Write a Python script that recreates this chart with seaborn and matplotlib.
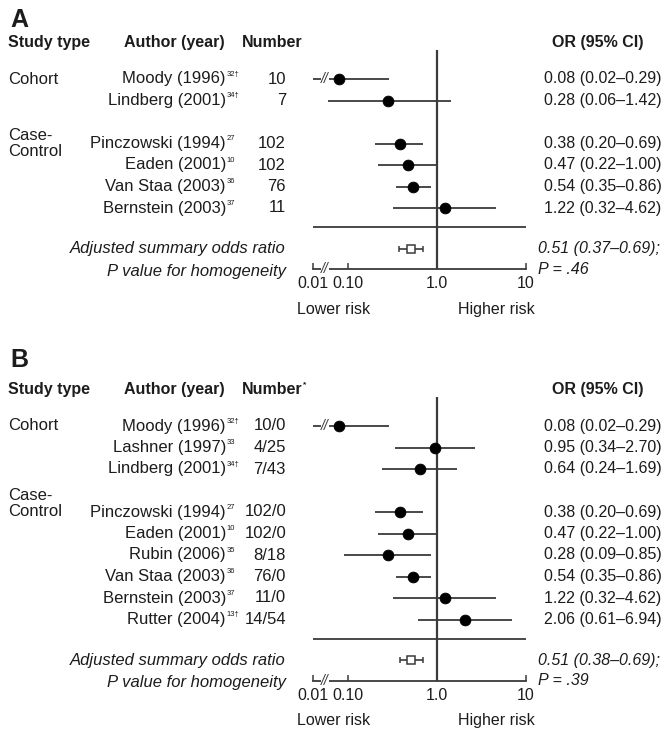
import matplotlib
matplotlib.use("Agg")
import pandas as pd
import matplotlib.pyplot as plt
import matplotlib.transforms as mtransforms
from matplotlib.ticker import NullLocator
import seaborn as sns

sns.set_theme(style="white")
plt.rcParams["font.family"] = ["Liberation Sans", "DejaVu Sans"]

# --- Panel A data ---
a_type = ["Cohort", "Cohort", "Case-\nControl", "Case-\nControl", "Case-\nControl", "Case-\nControl"]
a_author = ["Moody (1996)", "Lindberg (2001)", "Pinczowski (1994)", "Eaden (2001)",
            "Van Staa (2003)", "Bernstein (2003)"]
a_ref = ["32†", "34†", "27", "10", "36", "37"]
a_number = ["10", "7", "102", "102", "76", "11"]
a_or = [0.08, 0.28, 0.38, 0.47, 0.54, 1.22]
a_lo = [0.02, 0.06, 0.20, 0.22, 0.35, 0.32]
a_hi = [0.29, 1.42, 0.69, 1.00, 0.86, 4.62]
a_summary = [0.51, 0.37, 0.69]
a_p = ".46"

# --- Panel B data ---
b_type = ["Cohort", "Cohort", "Cohort", "Case-\nControl", "Case-\nControl", "Case-\nControl",
          "Case-\nControl", "Case-\nControl", "Case-\nControl"]
b_author = ["Moody (1996)", "Lashner (1997)", "Lindberg (2001)", "Pinczowski (1994)",
            "Eaden (2001)", "Rubin (2006)", "Van Staa (2003)", "Bernstein (2003)", "Rutter (2004)"]
b_ref = ["32†", "33", "34†", "27", "10", "35", "36", "37", "13†"]
b_number = ["10/0", "4/25", "7/43", "102/0", "102/0", "8/18", "76/0", "11/0", "14/54"]
b_or = [0.08, 0.95, 0.64, 0.38, 0.47, 0.28, 0.54, 1.22, 2.06]
b_lo = [0.02, 0.34, 0.24, 0.20, 0.22, 0.09, 0.35, 0.32, 0.61]
b_hi = [0.29, 2.70, 1.69, 0.69, 1.00, 0.85, 0.86, 4.62, 6.94]
b_summary = [0.51, 0.38, 0.69]
b_p = ".39"

tick_vals = [0.04, 0.1, 1, 10]          # left end stands for 0.01 behind the axis break
tick_labels = ["0.01", "0.10", "1.0", "10"]
x_break = 0.055

W, H = 667, 732
LINE = "#3a3a3a"
TXT = "#1c1c1c"
STEP = 21.5
SUP = 0.22   # superscript lift, in rows


def fx(px):
    return px / W


def fy(px):
    return 1 - px / H


def make_df(types, authors, refs, numbers, ors, los, his):
    df = pd.DataFrame({"type": types, "author": authors, "ref": refs, "number": numbers,
                       "or": ors, "lo": los, "hi": his})
    group = (df["type"] != df["type"].shift()).cumsum() - 1
    df["row"] = df.index + group
    return df


def draw_panel(fig, df, summary, p, letter, num_mark, row0_px, letter_px, cc_offset):
    last = df["row"].max()
    sep_r = last + 0.9
    sum_r = last + 1.9
    axis_r = last + 2.85
    top_r = -1.35

    def rp(r):
        return row0_px + r * STEP

    ax = fig.add_axes([fx(312.6), fy(rp(axis_r)), 213.4 / W, (rp(axis_r) - rp(top_r)) / H])
    ax.set_xscale("log")
    ax.set_xlim(0.04, 10)
    ax.set_ylim(axis_r, top_r)

    ax.hlines(df["row"], df["lo"], df["hi"], color=LINE, lw=1.3, zorder=2)
    sns.scatterplot(data=df, x="or", y="row", ax=ax, color="black", s=60,
                    edgecolor="black", zorder=3, legend=False)
    for _, r in df[df["lo"] < 0.04].iterrows():
        ax.text(x_break, r["row"], "//", ha="center", va="center", fontsize=10, color=LINE,
                style="italic", bbox=dict(fc="white", ec="none", pad=0.2), zorder=4)

    s_or, s_lo, s_hi = summary
    ax.errorbar([s_or], [sum_r], xerr=[[s_or - s_lo], [s_hi - s_or]], fmt="s",
                mfc="white", mec=LINE, ms=6, mew=1.1, capsize=2.5, ecolor=LINE,
                elinewidth=1.2, capthick=1.1, zorder=3)

    ax.axvline(1, color=LINE, lw=1.6, zorder=1)
    ax.axhline(sep_r, color=LINE, lw=1.3, zorder=1)

    for s in ["top", "left", "right"]:
        ax.spines[s].set_visible(False)
    ax.spines["bottom"].set_color(LINE)
    ax.spines["bottom"].set_linewidth(1.3)
    ax.set_yticks([])
    ax.set_xticks(tick_vals)
    ax.set_xticklabels(tick_labels)
    ax.xaxis.set_minor_locator(NullLocator())
    ax.tick_params(axis="x", bottom=True, direction="in", length=4, width=1.1,
                   color=LINE, labelcolor=TXT, labelsize=11.5, pad=5)
    ax.set_xlabel("")
    ax.set_ylabel("")
    ax.patch.set_alpha(0)
    ax.text(x_break, axis_r, "//", ha="center", va="center", fontsize=10, color=LINE,
            style="italic", bbox=dict(fc="white", ec="none", pad=0.2), clip_on=False, zorder=4)

    tr = mtransforms.blended_transform_factory(fig.transFigure, ax.transData)
    kw = dict(transform=tr, color=TXT, va="center", clip_on=False)

    fig.text(fx(10), fy(letter_px), letter, fontsize=18, weight="bold", color=TXT, va="center")
    hdr = -1.7
    ax.text(fx(8), hdr, "Study type", fontsize=11.5, weight="bold", **kw)
    ax.text(fx(124), hdr, "Author (year)", fontsize=11.5, weight="bold", **kw)
    ax.text(fx(242), hdr, "Number", fontsize=11.5, weight="bold", **kw)
    if num_mark:
        ax.text(fx(303), hdr - SUP, num_mark, fontsize=6, weight="bold", **kw)
    ax.text(fx(552), hdr, "OR (95% CI)", fontsize=11.5, weight="bold", **kw)

    for t, g in df.groupby("type", sort=False):
        r0 = g["row"].min()
        off = cc_offset if "\n" in t else 0
        ax.text(fx(8), r0 + off, t, fontsize=12, linespacing=1.05, **kw)

    for _, r in df.iterrows():
        ax.text(fx(226), r["row"], r["author"], fontsize=12, ha="right", **kw)
        ax.text(fx(226.5), r["row"] - SUP, r["ref"], fontsize=5.5, ha="left", **kw)
        ax.text(fx(286), r["row"], r["number"], fontsize=12, ha="right", **kw)
        ax.text(fx(544), r["row"], f"{r['or']:.2f} ({r['lo']:.2f}–{r['hi']:.2f})",
                fontsize=11.5, ha="left", **kw)

    ax.text(fx(286), sum_r, "Adjusted summary odds ratio", fontsize=12, style="italic",
            ha="right", **kw)
    ax.text(fx(286), axis_r + 0.1, "P value for homogeneity", fontsize=12, style="italic",
            ha="right", **kw)
    ax.text(fx(538), sum_r, f"{s_or:.2f} ({s_lo:.2f}–{s_hi:.2f});", fontsize=11.5,
            style="italic", ha="left", **kw)
    ax.text(fx(538), axis_r, f"P = {p}", fontsize=11.5, style="italic", ha="left", **kw)

    low_r = axis_r + 40 / STEP
    ax.text(fx(297), low_r, "Lower risk", fontsize=11.5, ha="left", **kw)
    ax.text(fx(535), low_r, "Higher risk", fontsize=11.5, ha="right", **kw)
    return ax


fig = plt.figure(figsize=(W / 100, H / 100), dpi=100)
fig.patch.set_facecolor("white")

df_a = make_df(a_type, a_author, a_ref, a_number, a_or, a_lo, a_hi)
df_b = make_df(b_type, b_author, b_ref, b_number, b_or, b_lo, b_hi)

draw_panel(fig, df_a, a_summary, a_p, "A", "", 79, 20, 0.0)
draw_panel(fig, df_b, b_summary, b_p, "B", "*", 426, 360, -0.4)

fig.savefig("out.png", dpi=100, facecolor="white")
